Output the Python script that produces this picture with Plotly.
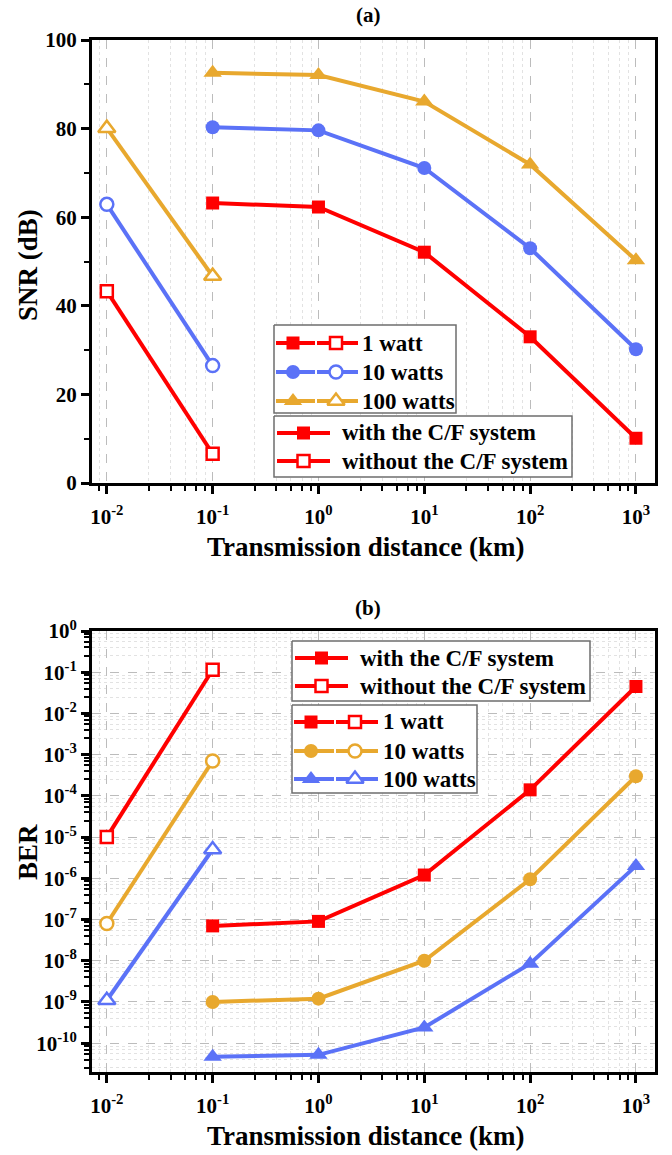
import plotly.graph_objects as go

W, H = 672, 1155
FONT = "Liberation Serif"
RED = "#FF0000"
BLUE = "#5B72F7"
GOLD = "#E8A82E"

# ---------------- data ----------------
x_with = [0.1, 1, 10, 100, 1000]
x_without = [0.01, 0.1]

# (a) SNR (dB)
snr_1w_with = [63.2, 62.3, 52.1, 33.0, 10.1]
snr_1w_without = [43.3, 6.6]
snr_10w_with = [80.3, 79.6, 71.1, 53.0, 30.2]
snr_10w_without = [62.9, 26.5]
snr_100w_with = [92.6, 92.1, 86.1, 71.9, 50.3]
snr_100w_without = [80.1, 46.7]

# (b) BER
ber_1w_with = [7e-8, 9e-8, 1.2e-6, 1.4e-4, 4.5e-2]
ber_1w_without = [1e-5, 1.15e-1]
ber_10w_with = [1e-9, 1.2e-9, 1e-8, 9.5e-7, 3e-4]
ber_10w_without = [8e-8, 7e-4]
ber_100w_with = [4.7e-11, 5.2e-11, 2.4e-10, 8.5e-9, 2e-6]
ber_100w_without = [1.1e-9, 5e-6]

x_exponents = [-2, -1, 0, 1, 2, 3]
ber_exponents = list(range(0, -11, -1))
minor_mantissas = [2.5, 4, 5.5, 7, 8.5]

legend_power_labels = ["1 watt", "10 watts", "100 watts"]
legend_cf_labels = ["with the C/F system", "without the C/F system"]

fig = go.Figure()

LW = 4
MS = 13


def add_series(xw, yw, xo, yo, color, symbol, xa, ya, size=MS):
    fig.add_trace(go.Scatter(
        x=xw, y=yw, mode="lines+markers", xaxis=xa, yaxis=ya,
        line=dict(color=color, width=LW),
        marker=dict(symbol=symbol, size=size, color=color, line=dict(width=0)),
        showlegend=False, cliponaxis=False))
    fig.add_trace(go.Scatter(
        x=xo, y=yo, mode="lines+markers", xaxis=xa, yaxis=ya,
        line=dict(color=color, width=LW),
        marker=dict(symbol=symbol, size=size - 1, color="white",
                    line=dict(color=color, width=2.5)),
        showlegend=False, cliponaxis=False))


# panel (a)
add_series(x_with, snr_100w_with, x_without, snr_100w_without, GOLD, "triangle-up", "x", "y", MS + 3)
add_series(x_with, snr_10w_with, x_without, snr_10w_without, BLUE, "circle", "x", "y", MS + 1)
add_series(x_with, snr_1w_with, x_without, snr_1w_without, RED, "square", "x", "y")
# panel (b)
add_series(x_with, ber_100w_with, x_without, ber_100w_without, BLUE, "triangle-up", "x2", "y2", MS + 3)
add_series(x_with, ber_10w_with, x_without, ber_10w_without, GOLD, "circle", "x2", "y2", MS + 1)
add_series(x_with, ber_1w_with, x_without, ber_1w_without, RED, "square", "x2", "y2")

# ---------------- axes ----------------
tickfont = dict(family=FONT, size=21, color="black", weight="bold")
x_tickvals = [10.0 ** e for e in x_exponents]
x_ticktext = ["10<sup>%d</sup>" % e for e in x_exponents]
x_minor = [m * 10.0 ** d for d in range(-3, 4) for m in minor_mantissas]
y_ber_tickvals = [10.0 ** e for e in ber_exponents]
y_ber_ticktext = ["10<sup>%d</sup>" % e for e in ber_exponents]
y_ber_minor = [m * 10.0 ** d for d in range(-12, 0) for m in minor_mantissas]

common = dict(showline=True, linecolor="black", linewidth=3, mirror=True,
              ticks="outside", ticklen=8, tickwidth=2.5, tickcolor="black",
              tickfont=tickfont, zeroline=False, automargin=False)

xa_common = dict(common, type="log", range=[-2.14, 3.18], tickmode="array",
                 tickvals=x_tickvals, ticktext=x_ticktext, ticklabelstandoff=5,
                 showgrid=True, gridcolor="#bcbcbc", griddash="dash", gridwidth=1,
                 minor=dict(tickmode="array", tickvals=x_minor, ticks="outside", ticklen=5,
                            tickwidth=2, tickcolor="black", showgrid=True,
                            gridcolor="#e2e2e2", griddash="dot", gridwidth=1))

xdom = [92 / W, 655 / W]
fig.update_layout(
    xaxis=dict(xa_common, domain=xdom, anchor="y"),
    yaxis=dict(common, domain=[1 - 483 / H, 1 - 40 / H], anchor="x", range=[0, 100],
               tickmode="linear", tick0=0, dtick=20, showgrid=False,
               minor=dict(dtick=10, ticks="outside", ticklen=5, tickwidth=2,
                          tickcolor="black", showgrid=False)),
    xaxis2=dict(xa_common, domain=xdom, anchor="y2"),
    yaxis2=dict(common, domain=[1 - 1072 / H, 1 - 631 / H], anchor="x2", type="log",
                range=[-10.70, 0], tickmode="array", tickvals=y_ber_tickvals,
                ticktext=y_ber_ticktext, showgrid=True, gridcolor="#bcbcbc",
                griddash="dash", gridwidth=1,
                minor=dict(tickmode="array", tickvals=y_ber_minor, ticks="outside",
                           ticklen=5, tickwidth=2, tickcolor="black", showgrid=True,
                           gridcolor="#e2e2e2", griddash="dot", gridwidth=1)),
    xaxis3=dict(domain=[0, 1], range=[0, W], visible=False, anchor="y3",
                fixedrange=True, automargin=False),
    yaxis3=dict(domain=[0, 1], range=[H, 0], visible=False, anchor="x3",
                fixedrange=True, automargin=False),
)

# ---------------- manual legends (pixel layout on overlay axes) ----------------
def legend_box(x0, y0, x1, y1):
    fig.add_trace(go.Scatter(
        x=[x0, x1, x1, x0, x0], y=[y0, y0, y1, y1, y0], mode="lines",
        fill="toself", fillcolor="white", line=dict(color="#6e6e6e", width=1.5),
        xaxis="x3", yaxis="y3", showlegend=False, hoverinfo="skip"))


def legend_sample(xa, xb, y, color, symbol, filled, xm, size=MS):
    fig.add_trace(go.Scatter(
        x=[xa, xb], y=[y, y], mode="lines", line=dict(color=color, width=LW),
        xaxis="x3", yaxis="y3", showlegend=False, hoverinfo="skip"))
    if filled:
        mk = dict(symbol=symbol, size=size, color=color, line=dict(width=0))
    else:
        mk = dict(symbol=symbol, size=size - 1, color="white", line=dict(color=color, width=2.5))
    fig.add_trace(go.Scatter(
        x=[xm], y=[y], mode="markers", marker=mk,
        xaxis="x3", yaxis="y3", showlegend=False, hoverinfo="skip"))


def legend_text(x, y, text):
    fig.add_annotation(x=x / W, y=1 - y / H, xref="paper", yref="paper", text=text,
                       showarrow=False, xanchor="left", yanchor="middle",
                       font=dict(family=FONT, size=23, color="black", weight="bold"))


def power_legend(x0, y0, x1, y1, rows, colors, line_end, text_x):
    legend_box(x0, y0, x1, y1)
    symbols = ["square", "circle", "triangle-up"]
    sizes = [MS, MS + 1, MS + 3]
    for i, yy in enumerate(rows):
        mid = (x0 + line_end) / 2
        legend_sample(x0 + 2, mid - 1, yy, colors[i], symbols[i], True, x0 + 19, sizes[i])
        legend_sample(mid + 1, line_end, yy, colors[i], symbols[i], False, mid + 20, sizes[i])
        legend_text(text_x, yy, legend_power_labels[i])


def cf_legend(x0, y0, x1, y1, rows, line_end, text_x):
    legend_box(x0, y0, x1, y1)
    for i, yy in enumerate(rows):
        legend_sample(x0 + 3, line_end, yy, RED, "square", i == 0, (x0 + 3 + line_end) / 2)
        legend_text(text_x, yy, legend_cf_labels[i])


# panel (a) legends
power_legend(274, 325, 456, 413, [343, 372, 401], [RED, BLUE, GOLD], 358, 360)
cf_legend(274, 416, 572, 477, [433, 461], 330, 340)
# panel (b) legends
cf_legend(292, 641, 590, 701, [658, 686], 348, 358)
power_legend(292, 705, 477, 793, [722, 751, 779], [RED, GOLD, BLUE], 378, 381)

# ---------------- titles ----------------
def ann(x, y, text, size, angle=0):
    fig.add_annotation(x=x / W, y=1 - y / H, xref="paper", yref="paper", text=text,
                       showarrow=False, xanchor="center", yanchor="middle", textangle=angle,
                       font=dict(family=FONT, size=size, color="black", weight="bold"))


ann(368, 15, "(a)", 21)
ann(368, 608, "(b)", 21)
ann(366, 547, "Transmission distance (km)", 27)
ann(366, 1136, "Transmission distance (km)", 27)
ann(28, 265, "SNR (dB)", 27, -90)
ann(28, 852, "BER", 27, -90)

fig.update_layout(width=W, height=H, margin=dict(l=0, r=0, t=0, b=0),
                  paper_bgcolor="white", plot_bgcolor="rgba(0,0,0,0)", showlegend=False)

fig.write_html("out.html")
